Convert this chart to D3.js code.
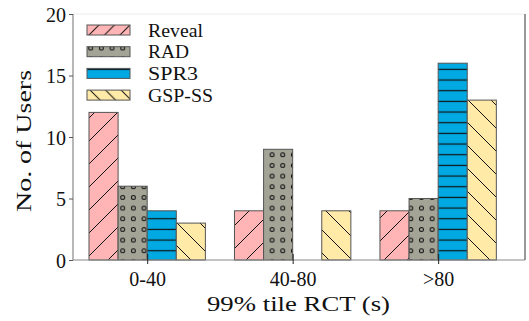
<!DOCTYPE html>
<html>
<head>
<meta charset="utf-8">
<script src="https://cdn.jsdelivr.net/npm/d3@7"></script>
<style>
  html, body { margin: 0; padding: 0; background: #fff; }
  svg text { fill: #111; }
</style>
</head>
<body>
<svg id="chart" width="529" height="321"></svg>
<script>
// ---- data ----
const categories = ["0-40", "40-80", ">80"];
const seriesNames = ["Reveal", "RAD", "SPR3", "GSP-SS"];
const reveal = [12, 4, 4];
const rad = [6, 9, 5];
const spr3 = [4, 0, 16];
const gspss = [3, 4, 13];
const yTicks = [0, 5, 10, 15, 20];
const xLabel = "99% tile RCT (s)";
const yLabel = "No. of Users";

const seriesValues = [reveal, rad, spr3, gspss];
const fills = ["#ffb5b5", "#a3a396", "#00a9e2", "#ffeaa8"];
const hatchIds = ["hatchFwd", "hatchDots", "hatchHoriz", "hatchBack"];

const svg = d3.select("#chart");
const plot = { left: 73, right: 525, top: 14, bottom: 260 };
const FONT = '"Liberation Serif", "DejaVu Serif", serif';

// ---- patterns ----
const defs = svg.append("defs");
function diag(id, s, forward) {
  const p = defs.append("pattern").attr("id", id).attr("patternUnits", "userSpaceOnUse")
    .attr("width", s).attr("height", s);
  const d = forward
    ? `M0,${s} L${s},0 M${-s/2},${s/2} L${s/2},${-s/2} M${s/2},${s*1.5} L${s*1.5},${s/2}`
    : `M0,0 L${s},${s} M${-s/2},${s/2} L${s/2},${s*1.5} M${s/2},${-s/2} L${s*1.5},${s/2}`;
  p.append("path").attr("d", d).attr("stroke", "#111").attr("stroke-width", 1).attr("fill", "none");
}
diag("hatchFwd", 23, true);
diag("hatchBack", 23, false);
diag("hatchFwdL", 15.5, true);
diag("hatchBackL", 15.5, false);
const h = 10.67;
const p3 = defs.append("pattern").attr("id", "hatchHoriz").attr("patternUnits", "userSpaceOnUse")
  .attr("width", h).attr("height", h);
p3.append("line").attr("x1", 0).attr("x2", h).attr("y1", h / 2).attr("y2", h / 2)
  .attr("stroke", "#111").attr("stroke-width", 1.2);
const p2 = defs.append("pattern").attr("id", "hatchDots").attr("patternUnits", "userSpaceOnUse")
  .attr("width", h).attr("height", h);
p2.append("circle").attr("cx", h / 2).attr("cy", h / 2).attr("r", 2)
  .attr("stroke", "#111").attr("stroke-width", 1).attr("fill", "none");
const legendHatch = ["hatchFwdL", "hatchDots", "hatchHoriz", "hatchBackL"];

// ---- scales ----
const x = d3.scaleLinear().domain([-0.51, 2.597]).range([plot.left, plot.right]);
const y = d3.scaleLinear().domain([0, 20]).range([plot.bottom, plot.top]);
const barW = 0.2;

// ---- bars ----
seriesValues.forEach((vals, si) => {
  const g = svg.append("g");
  const data = vals.map((v, ci) => ({ v, ci }));
  const x0 = d => x(d.ci + (si - 2) * barW);
  const x1 = d => x(d.ci + (si - 1) * barW);
  g.selectAll("rect.fill").data(data).enter().append("rect")
    .attr("x", x0).attr("width", d => x1(d) - x0(d))
    .attr("y", d => y(d.v)).attr("height", d => y(0) - y(d.v))
    .attr("fill", fills[si]);
  g.selectAll("rect.hatch").data(data).enter().append("rect")
    .attr("x", x0).attr("width", d => x1(d) - x0(d))
    .attr("y", d => y(d.v)).attr("height", d => y(0) - y(d.v))
    .attr("fill", `url(#${hatchIds[si]})`)
    .attr("stroke", d => d.v > 0 ? "#555" : "none").attr("stroke-width", 1);
});

// ---- spines ----
svg.append("line").attr("x1", plot.left).attr("x2", plot.right).attr("y1", plot.top).attr("y2", plot.top)
  .attr("stroke", "#ececec").attr("stroke-width", 1);
svg.append("line").attr("x1", plot.right).attr("x2", plot.right).attr("y1", plot.top).attr("y2", plot.bottom)
  .attr("stroke", "#555").attr("stroke-width", 1.2);
svg.append("line").attr("x1", plot.left).attr("x2", plot.right).attr("y1", plot.bottom).attr("y2", plot.bottom)
  .attr("stroke", "#888").attr("stroke-width", 1.2);
svg.append("line").attr("x1", plot.left).attr("x2", plot.left).attr("y1", plot.top).attr("y2", plot.bottom)
  .attr("stroke", "#888").attr("stroke-width", 1.2);

// ---- y axis ----
const yAxis = d3.axisLeft(y).tickValues(yTicks).tickSize(4).tickPadding(3).tickFormat(d3.format("d"));
const yg = svg.append("g").attr("transform", `translate(${plot.left},0)`).call(yAxis)
  .attr("font-family", FONT);
yg.select(".domain").remove();
yg.selectAll(".tick line").attr("stroke", "#555");
yg.selectAll(".tick text").attr("font-size", 20).attr("dy", "0.36em").attr("fill", "#111");

// ---- x axis ----
const xAxis = d3.axisBottom(x).tickValues([0, 1, 2]).tickSize(4).tickPadding(8)
  .tickFormat((d, i) => categories[i]);
const xg = svg.append("g").attr("transform", `translate(0,${plot.bottom})`).call(xAxis)
  .attr("font-family", FONT);
xg.select(".domain").remove();
xg.selectAll(".tick line").attr("stroke", "#222").attr("y1", -6).attr("y2", 4);
xg.selectAll(".tick text").attr("font-size", 20).attr("dy", "0.71em").attr("fill", "#111");

// ---- axis labels ----
svg.append("text").attr("x", (207 + 390) / 2).attr("y", 311).attr("text-anchor", "middle")
  .attr("font-family", FONT).attr("font-size", 21).attr("textLength", 183)
  .attr("lengthAdjust", "spacingAndGlyphs").text(xLabel);
svg.append("text").attr("transform", `translate(31,${(70 + 212) / 2}) rotate(-90)`).attr("text-anchor", "middle")
  .attr("font-family", FONT).attr("font-size", 21).attr("textLength", 142)
  .attr("lengthAdjust", "spacingAndGlyphs").text(yLabel);

// ---- legend ----
const legendW = [55, 41, 50, 65];
const lg = svg.append("g").attr("font-family", FONT);
seriesNames.forEach((name, i) => {
  const cy = 30 + i * 21.7;
  lg.append("rect").attr("x", 87).attr("y", cy - 5).attr("width", 43).attr("height", 10).attr("fill", fills[i]);
  lg.append("rect").attr("x", 87).attr("y", cy - 5).attr("width", 43).attr("height", 10)
    .attr("fill", `url(#${legendHatch[i]})`).attr("stroke", "#555").attr("stroke-width", 1);
  lg.append("text").attr("x", 148).attr("y", cy + 6.5).attr("font-size", 19)
    .attr("textLength", legendW[i]).attr("lengthAdjust", "spacingAndGlyphs").text(name);
});
</script>
</body>
</html>
